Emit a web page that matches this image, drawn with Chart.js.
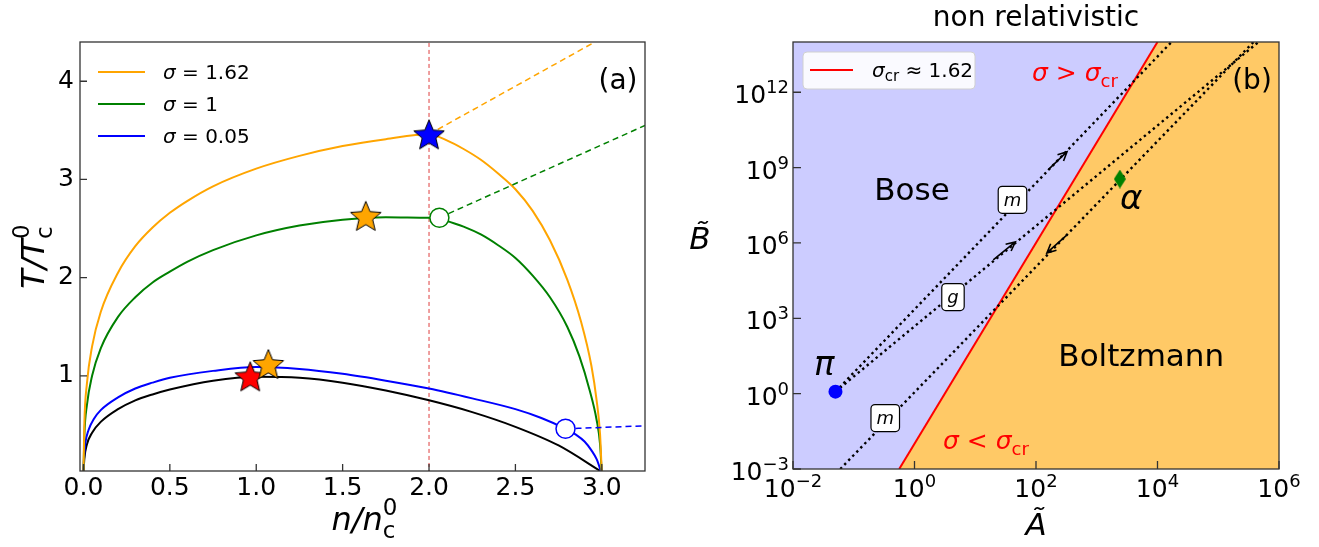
<!DOCTYPE html>
<html>
<head>
<meta charset="utf-8">
<script src="https://cdn.jsdelivr.net/npm/chart.js@4.4.0/dist/chart.umd.min.js"></script>
<style>
  body { margin:0; background:#fff; width:1319px; height:547px; overflow:hidden; position:relative; }
  #wa { position:absolute; left:0; top:0; width:660px; height:547px; }
  #wb { position:absolute; left:660px; top:0; width:659px; height:547px; }
</style>
</head>
<body>
<div id="wa"><canvas id="chartA" width="660" height="547"></canvas></div>
<div id="wb"><canvas id="chartB" width="659" height="547"></canvas></div>
<script>
// ---------- panel (a) : T/Tc0 vs n/nc0 ----------
const nBlack = [0, 0.005, 0.02, 0.05, 0.1, 0.2, 0.3, 0.4, 0.5, 0.75, 1.0, 1.25, 1.5, 1.75, 2.0, 2.25, 2.5, 2.75, 3.0];
const tBlack = [0, 0.15, 0.3, 0.42, 0.53, 0.66, 0.75, 0.81, 0.86, 0.95, 0.99, 0.98, 0.93, 0.85, 0.75, 0.63, 0.48, 0.29, 0.02];

const nBlue = [0, 0.002, 0.01, 0.03, 0.06, 0.1, 0.2, 0.3, 0.4, 0.5, 0.75, 1.0, 1.25, 1.5, 1.75, 2.0, 2.25, 2.5, 2.65, 2.79, 2.85, 2.9, 2.94, 2.97, 3.0];
const tBlue = [0, 0.12, 0.3, 0.45, 0.56, 0.65, 0.78, 0.87, 0.93, 0.98, 1.05, 1.09, 1.07, 1.02, 0.95, 0.87, 0.77, 0.66, 0.57, 0.46, 0.40, 0.33, 0.24, 0.15, 0];

const nGreen = [0, 0.005, 0.02, 0.05, 0.1, 0.2, 0.3, 0.4, 0.5, 0.6, 0.75, 1.0, 1.25, 1.5, 1.75, 2.0, 2.06,
                2.1, 2.2, 2.3, 2.4, 2.5, 2.6, 2.7, 2.8, 2.87, 2.93, 2.97, 2.99, 3.0];
const tGreen = [0, 0.38, 0.7, 1.0, 1.28, 1.6, 1.8, 1.95, 2.06, 2.16, 2.28, 2.43, 2.53, 2.59, 2.615, 2.61, 2.61,
                2.58, 2.52, 2.44, 2.33, 2.2, 2.02, 1.8, 1.5, 1.2, 0.85, 0.55, 0.3, 0];

const nOrange = [0, 0.005, 0.02, 0.05, 0.1, 0.2, 0.3, 0.4, 0.5, 0.6, 0.75, 1.0, 1.25, 1.5, 1.75, 2.0,
                 2.1, 2.2, 2.3, 2.4, 2.5, 2.6, 2.7, 2.8, 2.88, 2.94, 2.97, 2.99, 3.0];
const tOrange = [0, 0.5, 0.92, 1.3, 1.65, 2.05, 2.32, 2.51, 2.66, 2.78, 2.93, 3.11, 3.24, 3.34, 3.41, 3.46,
                 3.4, 3.31, 3.2, 3.06, 2.9, 2.68, 2.38, 1.98, 1.55, 1.1, 0.75, 0.4, 0];

// dashed continuations
const nOrangeDash = [2.0, 2.96], tOrangeDash = [3.46, 4.4];
const nGreenDash  = [2.06, 3.25], tGreenDash  = [2.61, 3.55];
const nBlueDash   = [2.79, 3.25], tBlueDash   = [0.46, 0.49];
const nVline = [2.0, 2.0], tVline = [0, 4.4];

// markers
const blueStar   = { n: [2.0],         t: [3.46] };
const orangeStar = { n: [1.634, 1.07], t: [2.63, 1.12] };
const redStar    = { n: [0.965],       t: [0.995] };
const openCircN = [2.06, 2.79], openCircT = [2.61, 0.46];
const openCircColors = ['#008000', '#0000FF'];

const xTicksA = [0, 0.5, 1, 1.5, 2, 2.5, 3];
const xTickLabelsA = ['0.0', '0.5', '1.0', '1.5', '2.0', '2.5', '3.0'];
const yTicksA = [1, 2, 3, 4];
const legendValsA = ['1.62', '1', '0.05'];
const legendColsA = ['#FFA500', '#008000', '#0000FF'];

// ---------- panel (b) : B~ vs A~ (log-log) ----------
const boundaryA = [0.56, 1e4],   boundaryB = [1e-3, 1e14];          // sigma_cr line
const orangeA   = [0.56, 1e4, 1e6], orangeB = [1e-3, 1e14, 1e14];  // Boltzmann side
const dotA1 = [0.05, 1.7e4],  dotB1 = [1.2, 1e14];
const dotA2 = [0.05, 4.6e5],  dotB2 = [1.2, 1e14];
const dotA3 = [0.06, 3.8e5],  dotB3 = [1e-3, 1e14];
const piA = [0.05], piB = [1.2];
const alphaA = [2400], alphaB = [3.5e8];

const boxLabels = ['m', 'g', 'm'];
const boxA = [41, 4.3, 0.33];
const boxB = [5.2e7, 7e3, 0.107];

const arrowTailA = [158, 19.8, 324],   arrowTailB = [8.1e8, 2.1e5, 2.1e6];
const arrowHeadA = [324, 45.7, 151],   arrowHeadB = [4.3e9, 1.1e6, 4e5];

const xTicksB = [1e-2, 1, 1e2, 1e4, 1e6];
const xTickExpB = ['\u22122', '0', '2', '4', '6'];
const yTicksB = [1e-3, 1, 1e3, 1e6, 1e9, 1e12];
const yTickExpB = ['\u22123', '0', '3', '6', '9', '12'];

const FAM = '"DejaVu Sans", sans-serif';
const pts = (xs, ys) => xs.map((x, i) => ({ x, y: ys[i] }));

// ---------- marker images ----------
function starImg(color, R) {
  const s = Math.ceil(2 * R + 4);
  const c = document.createElement('canvas');
  c.width = c.height = s;
  const g = c.getContext('2d');
  g.translate(s / 2, s / 2 + R * 0.1);
  g.beginPath();
  for (let i = 0; i < 10; i++) {
    const r = i % 2 === 0 ? R : R * 0.45;
    const a = -Math.PI / 2 + i * Math.PI / 5;
    g.lineTo(r * Math.cos(a), r * Math.sin(a));
  }
  g.closePath();
  g.fillStyle = color; g.fill();
  g.lineWidth = 1; g.strokeStyle = '#000'; g.stroke();
  return c;
}
function diamondImg(color, w, h) {
  const c = document.createElement('canvas');
  c.width = w; c.height = h;
  const g = c.getContext('2d');
  g.beginPath();
  g.moveTo(w / 2, 0); g.lineTo(w, h / 2); g.lineTo(w / 2, h); g.lineTo(0, h / 2);
  g.closePath(); g.fillStyle = color; g.fill();
  return c;
}

// ---------- rich text helper (sub/sup) ----------
function richWidth(ctx, parts) {
  let w = 0;
  for (const p of parts) {
    ctx.font = p.f;
    if (p.sub !== undefined) w += Math.max(ctx.measureText(p.sub).width, ctx.measureText(p.sup || '').width);
    else w += ctx.measureText(p.t).width;
  }
  return w;
}
function drawRich(ctx, x, y, parts, align) {
  const w = richWidth(ctx, parts);
  let cx = align === 'center' ? x - w / 2 : align === 'right' ? x - w : x;
  ctx.textAlign = 'left'; ctx.textBaseline = 'alphabetic';
  for (const p of parts) {
    ctx.font = p.f;
    if (p.sub !== undefined) {
      ctx.fillText(p.sub, cx, y + p.subDy);
      if (p.sup) ctx.fillText(p.sup, cx, y + p.supDy);
      cx += Math.max(ctx.measureText(p.sub).width, ctx.measureText(p.sup || '').width);
    } else {
      ctx.fillText(p.t, cx, y + (p.dy || 0));
      cx += ctx.measureText(p.t).width;
    }
  }
}

function frameAndTicks(ctx, ca, x, y, len) {
  ctx.strokeStyle = '#333'; ctx.lineWidth = 1.3;
  ctx.strokeRect(ca.left, ca.top, ca.width, ca.height);
  ctx.beginPath();
  x.ticks.forEach(t => { const p = x.getPixelForValue(t.value); ctx.moveTo(p, ca.bottom); ctx.lineTo(p, ca.bottom - len); });
  y.ticks.forEach(t => { const p = y.getPixelForValue(t.value); ctx.moveTo(ca.left, p); ctx.lineTo(ca.left + len, p); });
  ctx.stroke();
}

// ---------- plugin panel (a) ----------
const panelA = {
  id: 'panelA',
  afterDraw(chart) {
    const { ctx, chartArea: ca, scales: { x, y } } = chart;
    ctx.save();
    frameAndTicks(ctx, ca, x, y, 7);

    // legend
    legendValsA.forEach((v, i) => {
      const yy = ca.top + 30 + i * 32;
      ctx.strokeStyle = legendColsA[i]; ctx.lineWidth = 2;
      ctx.beginPath(); ctx.moveTo(ca.left + 18, yy); ctx.lineTo(ca.left + 65, yy); ctx.stroke();
      ctx.fillStyle = '#000';
      drawRich(ctx, ca.left + 83, yy + 7, [
        { t: '\u03C3', f: 'italic 20px ' + FAM },
        { t: ' = ' + v, f: '20px ' + FAM }
      ], 'left');
    });

    // panel tag
    ctx.fillStyle = '#000';
    ctx.font = '28px ' + FAM; ctx.textAlign = 'center'; ctx.textBaseline = 'middle';
    ctx.fillText('(a)', ca.right - 27, ca.top + 40);

    // x title n/n_c^0
    drawRich(ctx, (ca.left + ca.right) / 2 + 2, 530, [
      { t: 'n/n', f: 'italic 32px ' + FAM },
      { sub: 'c', sup: '0', subDy: 8, supDy: -15, f: '23px ' + FAM }
    ], 'center');

    // y title T/T_c^0 (rotated)
    ctx.save();
    ctx.translate(44, (ca.top + ca.bottom) / 2);
    ctx.rotate(-Math.PI / 2);
    drawRich(ctx, 0, 0, [
      { t: 'T/T', f: 'italic 32px ' + FAM },
      { sub: 'c', sup: '0', subDy: 8, supDy: -15, f: '23px ' + FAM }
    ], 'center');
    ctx.restore();
    ctx.restore();
  }
};

const lineDs = (xs, ys, color, extra) => Object.assign({
  data: pts(xs, ys), showLine: true, borderColor: color, borderWidth: 2,
  pointRadius: 0, cubicInterpolationMode: 'monotone', order: 5
}, extra || {});

new Chart(document.getElementById('chartA'), {
  type: 'scatter',
  data: {
    datasets: [
      { data: pts(blueStar.n, blueStar.t), pointStyle: starImg('#0000FF', 16), pointRadius: 10, order: 0 },
      { data: pts(orangeStar.n, orangeStar.t), pointStyle: starImg('#FFA500', 16), pointRadius: 10, order: 0 },
      { data: pts(redStar.n, redStar.t), pointStyle: starImg('#FF0000', 16), pointRadius: 10, order: 1 },
      { data: pts(openCircN, openCircT), pointStyle: 'circle', pointRadius: 9.5, pointBackgroundColor: '#fff',
        pointBorderColor: openCircColors, pointBorderWidth: 1.5, order: 0 },
      lineDs(nVline, tVline, 'rgba(220,40,40,0.9)', { borderWidth: 1, borderDash: [4, 3], cubicInterpolationMode: 'default', order: 6 }),
      lineDs(nOrangeDash, tOrangeDash, '#FFA500', { borderWidth: 1.5, borderDash: [6, 4], order: 4 }),
      lineDs(nGreenDash, tGreenDash, '#008000', { borderWidth: 1.5, borderDash: [6, 4], order: 4 }),
      lineDs(nBlueDash, tBlueDash, '#0000FF', { borderWidth: 1.5, borderDash: [6, 4], order: 4 }),
      lineDs(nOrange, tOrange, '#FFA500'),
      lineDs(nGreen, tGreen, '#008000'),
      lineDs(nBlue, tBlue, '#0000FF'),
      lineDs(nBlack, tBlack, '#000000')
    ]
  },
  options: {
    responsive: false, animation: false, events: [], devicePixelRatio: 1,
    layout: { padding: { top: 42, right: 15, left: 0, bottom: 0 } },
    plugins: { legend: { display: false }, tooltip: { enabled: false } },
    scales: {
      x: {
        type: 'linear', min: -0.02, max: 3.25,
        afterFit: s => { s.height = 76; },
        afterBuildTicks: s => { s.ticks = xTicksA.map(v => ({ value: v })); },
        grid: { display: false, drawTicks: false }, border: { display: false },
        ticks: { callback: (v, i) => xTickLabelsA[i], font: { family: FAM, size: 25 }, color: '#000', padding: 2, maxRotation: 0, autoSkip: false }
      },
      y: {
        type: 'linear', min: 0.03, max: 4.4,
        afterFit: s => { s.width = 80; },
        afterBuildTicks: s => { s.ticks = yTicksA.map(v => ({ value: v })); },
        grid: { display: false, drawTicks: false }, border: { display: false },
        ticks: { callback: v => String(v), font: { family: FAM, size: 25 }, color: '#000', padding: 6, autoSkip: false }
      }
    }
  },
  plugins: [panelA]
});

// ---------- plugin panel (b) ----------
function powLabel(ctx, px, baseY, expY, exp, align) {
  ctx.font = '25px ' + FAM;
  const w1 = ctx.measureText('10').width;
  ctx.font = '18px ' + FAM;
  const w2 = ctx.measureText(exp).width;
  const x0 = align === 'right' ? px - w1 - w2 : px - (w1 + w2) / 2;
  ctx.textAlign = 'left'; ctx.textBaseline = 'alphabetic';
  ctx.font = '25px ' + FAM; ctx.fillText('10', x0, baseY);
  ctx.font = '18px ' + FAM; ctx.fillText(exp, x0 + w1, expY);
}

const panelB = {
  id: 'panelB',
  beforeDraw(chart) {
    const { ctx, chartArea: ca } = chart;
    ctx.save();
    ctx.fillStyle = '#CCCCFF';
    ctx.fillRect(ca.left, ca.top, ca.width, ca.height);
    ctx.restore();
  },
  afterDraw(chart) {
    const { ctx, chartArea: ca, scales: { x, y } } = chart;
    ctx.save();

    // arrows
    ctx.strokeStyle = '#000'; ctx.lineWidth = 1.6;
    arrowTailA.forEach((_, i) => {
      const x0 = x.getPixelForValue(arrowTailA[i]), y0 = y.getPixelForValue(arrowTailB[i]);
      const x1 = x.getPixelForValue(arrowHeadA[i]), y1 = y.getPixelForValue(arrowHeadB[i]);
      const a = Math.atan2(y1 - y0, x1 - x0);
      ctx.beginPath();
      ctx.moveTo(x0, y0); ctx.lineTo(x1, y1);
      ctx.moveTo(x1 - 10 * Math.cos(a - 0.45), y1 - 10 * Math.sin(a - 0.45));
      ctx.lineTo(x1, y1);
      ctx.lineTo(x1 - 10 * Math.cos(a + 0.45), y1 - 10 * Math.sin(a + 0.45));
      ctx.stroke();
    });

    // boxed labels
    boxLabels.forEach((lab, i) => {
      const cx = x.getPixelForValue(boxA[i]), cy = y.getPixelForValue(boxB[i]);
      ctx.font = 'italic 18px ' + FAM;
      const w = ctx.measureText(lab).width + 11, h = 27;
      ctx.beginPath();
      ctx.roundRect(cx - w / 2, cy - h / 2, w, h, 4);
      ctx.fillStyle = '#fff'; ctx.fill();
      ctx.strokeStyle = '#000'; ctx.lineWidth = 1.2; ctx.stroke();
      ctx.fillStyle = '#000'; ctx.textAlign = 'center'; ctx.textBaseline = 'middle';
      ctx.fillText(lab, cx, cy + 1);
    });

    // region names
    ctx.fillStyle = '#000'; ctx.textAlign = 'center'; ctx.textBaseline = 'middle';
    ctx.font = '31px ' + FAM;
    ctx.fillText('Bose', x.getPixelForValue(0.91), y.getPixelForValue(1.1e8));
    ctx.fillText('Boltzmann', x.getPixelForValue(5400), y.getPixelForValue(26));
    ctx.font = 'italic 34px ' + FAM;
    ctx.fillText('\u03C0', x.getPixelForValue(0.0327), y.getPixelForValue(12.6));
    ctx.fillText('\u03B1', x.getPixelForValue(3700), y.getPixelForValue(5.2e7));

    // sigma comparisons
    ctx.fillStyle = '#FF0000';
    const sig = (op, px, py) => drawRich(ctx, px, py, [
      { t: '\u03C3 ' + op + ' \u03C3', f: 'italic 25px ' + FAM },
      { sub: 'cr', subDy: 6, f: '18px ' + FAM }
    ], 'center');
    sig('>', x.getPixelForValue(437), y.getPixelForValue(6.3e12) + 9);
    sig('<', x.getPixelForValue(15), y.getPixelForValue(0.014) + 9);

    // (b)
    ctx.fillStyle = '#000'; ctx.font = '28px ' + FAM; ctx.textAlign = 'center'; ctx.textBaseline = 'middle';
    ctx.fillText('(b)', ca.right - 27, ca.top + 40);

    // legend
    const lx = ca.left + 10, ly = ca.top + 10;
    ctx.beginPath(); ctx.roundRect(lx, ly, 172, 37, 4);
    ctx.fillStyle = 'rgba(255,255,255,0.9)'; ctx.fill();
    ctx.strokeStyle = '#d0d0d0'; ctx.lineWidth = 1; ctx.stroke();
    ctx.strokeStyle = '#FF0000'; ctx.lineWidth = 2;
    ctx.beginPath(); ctx.moveTo(lx + 7, ly + 18); ctx.lineTo(lx + 50, ly + 18); ctx.stroke();
    ctx.fillStyle = '#000';
    drawRich(ctx, lx + 69, ly + 25, [
      { t: '\u03C3', f: 'italic 20px ' + FAM },
      { sub: 'cr', subDy: 4, f: '15px ' + FAM },
      { t: ' \u2248 1.62', f: '20px ' + FAM }
    ], 'left');

    frameAndTicks(ctx, ca, x, y, 8);

    // tick labels 10^k
    ctx.fillStyle = '#000';
    x.ticks.forEach((t, i) => powLabel(ctx, x.getPixelForValue(t.value), ca.bottom + 28, ca.bottom + 18, xTickExpB[i], 'center'));
    y.ticks.forEach((t, i) => { const p = y.getPixelForValue(t.value); powLabel(ctx, ca.left - 4, p + 11, p + 1, yTickExpB[i], 'right'); });

    // title
    ctx.font = '28px ' + FAM; ctx.textAlign = 'center'; ctx.textBaseline = 'middle';
    ctx.fillText('non relativistic', (ca.left + ca.right) / 2, 19);

    // axis titles
    ctx.font = 'italic 31px ' + FAM; ctx.textAlign = 'center'; ctx.textBaseline = 'alphabetic';
    ctx.fillText('A\u0303', (ca.left + ca.right) / 2, 535);
    ctx.fillText('B\u0303', ca.left - 93, (ca.top + ca.bottom) / 2 - 7);
    ctx.restore();
  }
};

new Chart(document.getElementById('chartB'), {
  type: 'scatter',
  data: {
    datasets: [
      { data: pts(piA, piB), pointStyle: 'circle', pointRadius: 7, pointBackgroundColor: '#0000FF', pointBorderWidth: 0, order: 0 },
      { data: pts(alphaA, alphaB), pointStyle: diamondImg('#008000', 12, 19), pointRadius: 9, order: 0 },
      { data: pts(dotA1, dotB1), showLine: true, borderColor: '#000', borderWidth: 2.4, borderDash: [2.4, 3.4], pointRadius: 0, order: 3 },
      { data: pts(dotA2, dotB2), showLine: true, borderColor: '#000', borderWidth: 2.4, borderDash: [2.4, 3.4], pointRadius: 0, order: 3 },
      { data: pts(dotA3, dotB3), showLine: true, borderColor: '#000', borderWidth: 2.4, borderDash: [2.4, 3.4], pointRadius: 0, order: 3 },
      { data: pts(boundaryA, boundaryB), showLine: true, borderColor: '#FF0000', borderWidth: 2, pointRadius: 0, order: 4 },
      { data: pts(orangeA, orangeB), showLine: true, fill: 'start', backgroundColor: '#FFC966', borderWidth: 0, pointRadius: 0, order: 9 }
    ]
  },
  options: {
    responsive: false, animation: false, events: [], devicePixelRatio: 1,
    layout: { padding: { top: 42, right: 40, left: 0, bottom: 0 } },
    plugins: { legend: { display: false }, tooltip: { enabled: false } },
    scales: {
      x: {
        type: 'logarithmic', min: 1e-2, max: 1e6,
        afterFit: s => { s.height = 78; },
        afterBuildTicks: s => { s.ticks = xTicksB.map(v => ({ value: v })); },
        grid: { display: false, drawTicks: false }, border: { display: false },
        ticks: { display: false, autoSkip: false }
      },
      y: {
        type: 'logarithmic', min: 1e-3, max: 1e14,
        afterFit: s => { s.width = 133; },
        afterBuildTicks: s => { s.ticks = yTicksB.map(v => ({ value: v })); },
        grid: { display: false, drawTicks: false }, border: { display: false },
        ticks: { display: false, autoSkip: false }
      }
    }
  },
  plugins: [panelB]
});
</script>
</body>
</html>
